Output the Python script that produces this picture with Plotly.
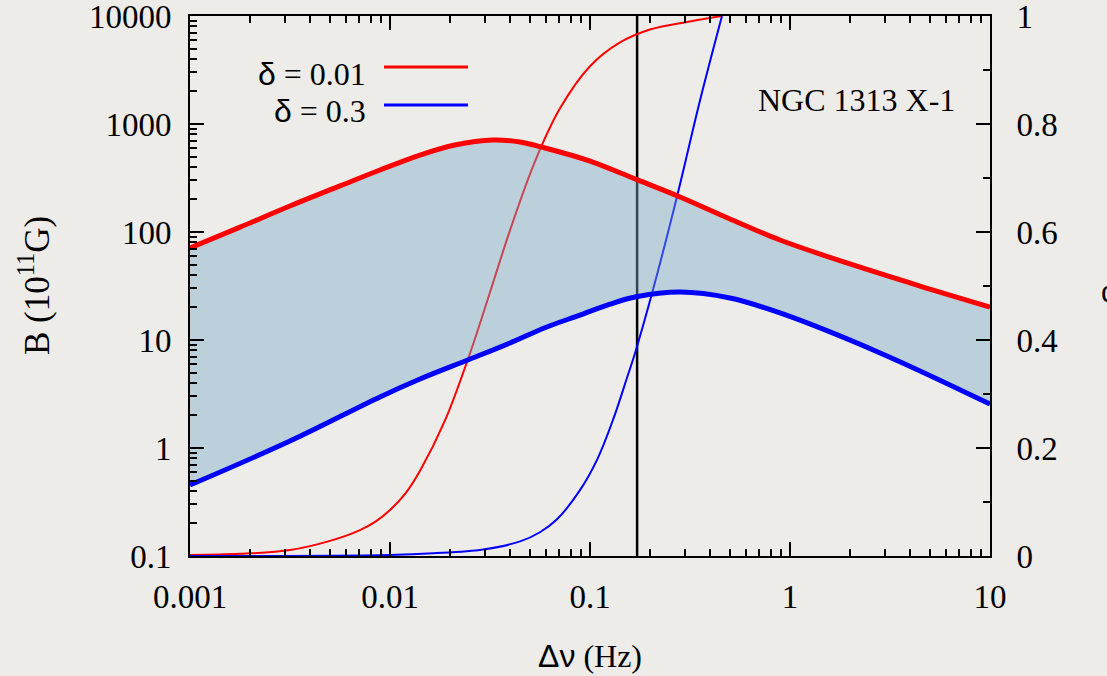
import plotly.graph_objects as go

# ---- data ----
# magnetic field B (10^11 G) vs frequency width (Hz)
freq_b1 = [0.001, 0.00178, 0.00316, 0.00562, 0.00891, 0.01413, 0.0211, 0.0327, 0.0447, 0.0596,
           0.1, 0.168, 0.282, 0.501, 0.891, 1.995, 4.47, 10.0]
b_delta001 = [71.1, 111, 174, 267, 375, 516, 639, 711, 681, 600,
              454, 310, 211, 132, 84.3, 50.6, 31.6, 20.2]
freq_b2 = [0.001, 0.00316, 0.00891, 0.01413, 0.0245, 0.0398, 0.0608, 0.0891, 0.126, 0.168,
           0.282, 0.501, 0.891, 2.82, 10.0]
b_delta03 = [0.454, 1.16, 2.97, 4.35, 6.53, 9.38, 13.2, 17.0, 21.5, 25.0,
             27.8, 24.5, 17.8, 7.59, 2.55]

# thin curves on the right axis (fraction 0..1)
freq_f1 = [0.001, 0.00178, 0.00316, 0.00501, 0.00708, 0.0085, 0.01, 0.012, 0.01413, 0.01884,
           0.0251, 0.0316, 0.0398, 0.0531, 0.0708, 0.1, 0.1413, 0.1995, 0.316, 0.457]
frac_f1 = [0.002, 0.004, 0.011, 0.028, 0.048, 0.064, 0.085, 0.117, 0.158, 0.251,
           0.375, 0.488, 0.603, 0.731, 0.829, 0.907, 0.951, 0.975, 0.99, 1.0]
freq_f2 = [0.001, 0.01, 0.0164, 0.0292, 0.0447, 0.0562, 0.0684, 0.0891, 0.1084, 0.1303, 0.1531,
           0.168, 0.2065, 0.272, 0.355, 0.457]
frac_f2 = [0.0, 0.002, 0.005, 0.012, 0.027, 0.044, 0.068, 0.122, 0.178, 0.252, 0.33,
           0.376, 0.493, 0.665, 0.844, 1.0]

f_mark = 0.172

x_ticks = [0.001, 0.01, 0.1, 1, 10]
x_ticktext = ["0.001", "0.01", "0.1", "1", "10"]
yl_ticks = [0.1, 1, 10, 100, 1000, 10000]
yl_ticktext = ["0.1", "1", "10", "100", "1000", "10000"]
yr_ticks = [0, 0.2, 0.4, 0.6, 0.8, 1.0]
yr_ticktext = ["0", "0.2", "0.4", "0.6", "0.8", "1"]
yr_minor = [0.1, 0.3, 0.5, 0.7, 0.9]

x_minor = [m * 10.0 ** e for e in range(-3, 1) for m in range(2, 10)]
yl_minor = [m * 10.0 ** e for e in range(-1, 4) for m in range(2, 10)]

SERIF = "Liberation Serif, Times New Roman, serif"
SANS = "Liberation Sans, Arial, sans-serif"
PAPER = "#edece8"

fig = go.Figure()

# thin fraction curves (right axis, drawn beneath the band)
fig.add_trace(go.Scatter(x=freq_f1, y=frac_f1, mode="lines", yaxis="y",
                         line=dict(color="#ff0000", width=2, shape="spline", smoothing=1.0),
                         showlegend=False, hoverinfo="skip"))
fig.add_trace(go.Scatter(x=freq_f2, y=frac_f2, mode="lines", yaxis="y",
                         line=dict(color="#0000ff", width=2, shape="spline", smoothing=1.0),
                         showlegend=False, hoverinfo="skip"))

# shaded band between the two B curves (left log axis)
fig.add_trace(go.Scatter(x=freq_b1, y=b_delta001, mode="lines", yaxis="y2",
                         line=dict(width=0, shape="spline", smoothing=1.0),
                         showlegend=False, hoverinfo="skip"))
fig.add_trace(go.Scatter(x=freq_b2, y=b_delta03, mode="lines", yaxis="y2",
                         line=dict(width=0, shape="spline", smoothing=1.0),
                         fill="tonexty", fillcolor="rgba(120,170,200,0.42)",
                         showlegend=False, hoverinfo="skip"))
# thick B curves
fig.add_trace(go.Scatter(x=freq_b1, y=b_delta001, mode="lines", yaxis="y2",
                         line=dict(color="#ff0000", width=5, shape="spline", smoothing=1.0),
                         showlegend=False, hoverinfo="skip"))
fig.add_trace(go.Scatter(x=freq_b2, y=b_delta03, mode="lines", yaxis="y2",
                         line=dict(color="#0000ff", width=5, shape="spline", smoothing=1.0),
                         showlegend=False, hoverinfo="skip"))

# vertical marker line
fig.add_shape(type="line", xref="x", yref="paper", x0=f_mark, x1=f_mark, y0=0, y1=1,
              line=dict(color="black", width=2.5), layer="below")

# legend (gnuplot style: text then line sample)
legend_rows = [("δ", " = 0.01", "#ff0000", 0.8926, 0.9056),
               ("δ", " = 0.3", "#0000ff", 0.824, 0.835)]
for sym, rest, col, ytxt, yline in legend_rows:
    fig.add_annotation(xref="paper", yref="paper", x=0.222, y=ytxt, xanchor="right", yanchor="middle",
                       text=f"<span style='font-family:{SANS}'>{sym}</span>{rest}",
                       showarrow=False, font=dict(family=SERIF, size=32, color="black"))
    fig.add_shape(type="line", xref="paper", yref="paper", x0=0.2425, x1=0.3475, y0=yline, y1=yline,
                  line=dict(color=col, width=3))

fig.add_annotation(xref="paper", yref="paper", x=0.708, y=0.845, xanchor="left", yanchor="middle",
                   text="NGC 1313 X-1", showarrow=False, font=dict(family=SERIF, size=32, color="black"))

# axis titles
fig.add_annotation(xref="paper", yref="paper", x=-0.195, y=0.5, xanchor="center", yanchor="middle",
                   text="B (10<sup>11</sup>G)", textangle=-90, showarrow=False,
                   font=dict(family=SERIF, size=35, color="black"))
fig.add_annotation(xref="paper", yref="paper", x=0.5, y=-0.186, xanchor="center", yanchor="middle",
                   text=f"<span style='font-family:{SANS}'>Δν</span> (Hz)", showarrow=False,
                   font=dict(family=SERIF, size=32, color="black"))
fig.add_annotation(xref="paper", yref="paper", x=1.136, y=0.49, xanchor="left", yanchor="middle",
                   text="α", showarrow=False,
                   font=dict(family=SANS, size=30, color="black"))

axis_common = dict(showline=True, linecolor="black", linewidth=2, ticks="inside",
                   tickcolor="black", tickwidth=1.5, ticklen=14, showgrid=False, zeroline=False,
                   ticklabeloverflow="allow", automargin=False,
                   tickfont=dict(family=SERIF, size=33, color="black"))

fig.update_layout(
    width=1107, height=676,
    margin=dict(l=190, r=117, t=16, b=120, autoexpand=False),
    paper_bgcolor=PAPER, plot_bgcolor="rgba(0,0,0,0)",
    showlegend=False,
    xaxis=dict(type="log", range=[-3, 1], tickmode="array", tickvals=x_ticks, ticktext=x_ticktext,
               mirror="ticks",
               minor=dict(ticks="inside", ticklen=7, tickcolor="black", tickwidth=1.5,
                          tickmode="array", tickvals=x_minor, showgrid=False),
               ticklabelstandoff=10, **axis_common),
    yaxis=dict(type="linear", range=[0, 1], side="right", tickmode="array", tickvals=yr_ticks,
               ticktext=yr_ticktext,
               minor=dict(ticks="inside", ticklen=7, tickcolor="black", tickwidth=1.5,
                          tickmode="array", tickvals=yr_minor, showgrid=False),
               ticklabelstandoff=18, **axis_common),
    yaxis2=dict(type="log", range=[-1, 4], side="left", overlaying="y", tickmode="array",
                tickvals=yl_ticks, ticktext=yl_ticktext,
                minor=dict(ticks="inside", ticklen=7, tickcolor="black", tickwidth=1.5,
                           tickmode="array", tickvals=yl_minor, showgrid=False),
                ticklabelstandoff=10, **axis_common),
)

fig.write_html("out.html")
